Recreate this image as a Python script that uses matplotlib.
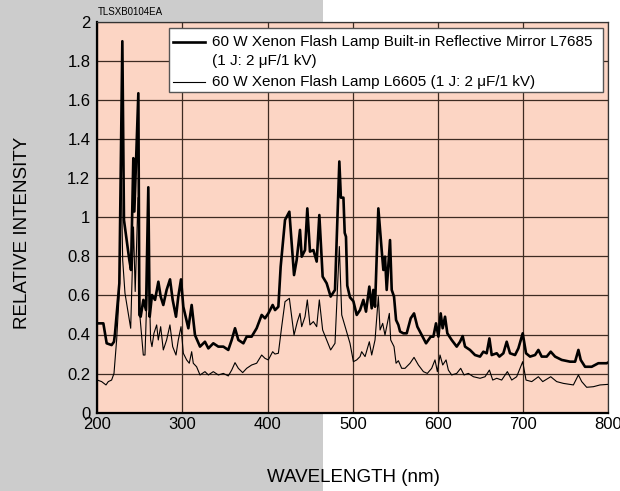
import matplotlib
matplotlib.use("Agg")
import matplotlib.pyplot as plt
from matplotlib.patches import Rectangle
from matplotlib.lines import Line2D

plt.rcParams['font.family'] = ['Liberation Sans', 'DejaVu Sans']

# L7685 (built-in reflective mirror), thick line
wl_l7685 = [200.0, 207.1, 211.0, 216.8, 219.6, 220.8, 223.5, 225.9, 229.4, 231.3,
            234.5, 237.6, 239.6, 242.3, 243.5, 248.2, 249.4, 250.9, 254.1, 257.2,
            259.9, 261.5, 264.2, 267.8, 271.7, 274.4, 277.5, 281.4, 285.4, 288.5,
            292.4, 295.1, 298.3, 301.0, 304.2, 306.9, 310.8, 314.7, 320.6, 326.4,
            330.4, 336.2, 342.1, 348.0, 353.8, 357.8, 361.7, 365.6, 371.5, 375.4,
            381.2, 387.1, 393.0, 396.9, 400.8, 405.9, 408.7, 412.6, 415.3, 420.4,
            425.5, 428.2, 431.0, 434.1, 438.0, 440.0, 443.9, 446.6, 449.7, 453.7,
            457.6, 460.7, 464.6, 469.3, 474.0, 479.1, 484.2, 486.0, 489.0, 490.5,
            492.0, 493.5, 496.7, 500.7, 504.6, 508.5, 512.4, 515.5, 519.4, 522.2,
            524.1, 526.1, 530.0, 533.9, 535.9, 537.8, 539.8, 543.7, 545.7, 548.4,
            550.8, 553.5, 555.5, 559.4, 563.3, 568.0, 571.9, 575.8, 580.9, 586.0,
            591.5, 594.6, 597.7, 600.5, 603.2, 605.5, 608.3, 611.0, 616.1, 622.0,
            625.9, 629.0, 631.8, 637.6, 643.5, 649.4, 653.3, 657.2, 660.4, 663.1,
            669.0, 672.1, 676.8, 680.7, 684.6, 690.5, 694.4, 699.5, 703.4, 708.1,
            714.0, 717.9, 721.8, 727.7, 732.4, 737.5, 745.3, 755.1, 761.0, 764.9,
            767.6, 772.7, 780.5, 788.3, 798.1, 800.0]
int_l7685 = [0.457, 0.457, 0.355, 0.346, 0.363, 0.406, 0.542, 0.662, 1.900, 0.986,
             0.883, 0.781, 0.730, 1.302, 1.029, 1.634, 0.500, 0.491, 0.577, 0.525,
             1.153, 0.491, 0.602, 0.577, 0.670, 0.594, 0.551, 0.628, 0.682, 0.577,
             0.491, 0.594, 0.682, 0.542, 0.483, 0.432, 0.551, 0.397, 0.338, 0.363,
             0.329, 0.355, 0.338, 0.338, 0.321, 0.372, 0.432, 0.372, 0.355, 0.389,
             0.389, 0.432, 0.500, 0.483, 0.508, 0.551, 0.525, 0.542, 0.747, 0.986,
             1.028, 0.866, 0.704, 0.781, 0.935, 0.798, 0.832, 1.045, 0.824, 0.832,
             0.773, 1.011, 0.696, 0.662, 0.594, 0.628, 1.285, 1.100, 1.100, 0.920,
             0.900, 0.650, 0.590, 0.570, 0.500, 0.525, 0.577, 0.517, 0.645, 0.534,
             0.628, 0.542, 1.045, 0.832, 0.730, 0.798, 0.628, 0.883, 0.628, 0.594,
             0.474, 0.449, 0.415, 0.406, 0.406, 0.483, 0.508, 0.440, 0.397, 0.355,
             0.389, 0.389, 0.457, 0.389, 0.508, 0.432, 0.491, 0.406, 0.372, 0.338,
             0.363, 0.392, 0.338, 0.321, 0.295, 0.287, 0.312, 0.304, 0.380, 0.295,
             0.304, 0.287, 0.304, 0.363, 0.304, 0.295, 0.329, 0.406, 0.304, 0.287,
             0.295, 0.321, 0.287, 0.287, 0.312, 0.287, 0.270, 0.261, 0.261, 0.321,
             0.270, 0.235, 0.235, 0.253, 0.253, 0.257]

# L6605, thin line
wl_l6605 = [200.0, 205.1, 210.2, 212.9, 216.8, 219.6, 222.7, 225.8, 227.8, 229.8,
            232.5, 236.4, 239.2, 242.5, 244.5, 247.8, 250.1, 254.0, 256.0, 259.9,
            262.6, 264.2, 266.5, 269.7, 271.6, 274.4, 277.5, 281.4, 285.3, 288.5,
            292.4, 295.1, 298.3, 301.0, 304.9, 308.0, 310.8, 312.7, 316.6, 320.6,
            326.4, 330.4, 336.2, 342.1, 348.0, 353.8, 357.8, 361.7, 365.6, 370.7,
            375.4, 381.2, 387.1, 393.0, 396.9, 400.8, 405.9, 408.6, 412.6, 416.5,
            420.4, 425.5, 428.2, 431.0, 434.9, 438.0, 440.0, 443.9, 446.6, 449.7,
            453.7, 457.6, 460.7, 464.6, 469.3, 474.0, 479.1, 484.2, 487.0, 496.7,
            500.7, 504.6, 508.5, 510.4, 514.4, 519.4, 522.2, 526.1, 530.0, 532.0,
            535.1, 537.8, 542.9, 544.5, 548.4, 550.8, 553.5, 557.4, 561.3, 567.2,
            571.9, 577.0, 582.9, 587.5, 592.6, 596.5, 599.3, 602.4, 605.6, 609.5,
            612.2, 616.1, 622.0, 626.7, 630.6, 635.7, 641.6, 649.4, 655.3, 660.4,
            664.3, 669.0, 674.8, 681.5, 686.6, 692.4, 699.5, 703.4, 710.1, 717.9,
            723.0, 732.4, 739.4, 747.2, 759.0, 764.9, 768.8, 774.6, 782.5, 790.3,
            800.0]
int_l6605 = [0.167, 0.159, 0.142, 0.159, 0.167, 0.201, 0.372, 0.611, 1.285, 0.781,
             0.611, 0.508, 0.432, 0.950, 0.620, 1.100, 0.491, 0.295, 0.295, 0.830,
             0.372, 0.338, 0.406, 0.449, 0.372, 0.440, 0.321, 0.372, 0.449, 0.338,
             0.295, 0.372, 0.440, 0.304, 0.270, 0.253, 0.312, 0.253, 0.235, 0.193,
             0.210, 0.193, 0.210, 0.193, 0.201, 0.188, 0.218, 0.256, 0.227, 0.205,
             0.227, 0.244, 0.253, 0.295, 0.278, 0.270, 0.312, 0.300, 0.304, 0.440,
             0.568, 0.585, 0.491, 0.397, 0.466, 0.508, 0.440, 0.491, 0.577, 0.449,
             0.466, 0.440, 0.577, 0.423, 0.372, 0.321, 0.355, 0.850, 0.500, 0.355,
             0.261, 0.270, 0.287, 0.312, 0.287, 0.363, 0.295, 0.372, 0.594, 0.423,
             0.457, 0.397, 0.508, 0.372, 0.338, 0.253, 0.266, 0.227, 0.227, 0.253,
             0.283, 0.244, 0.210, 0.201, 0.227, 0.270, 0.210, 0.295, 0.244, 0.270,
             0.218, 0.193, 0.201, 0.227, 0.193, 0.201, 0.184, 0.176, 0.184, 0.218,
             0.167, 0.176, 0.167, 0.210, 0.167, 0.184, 0.261, 0.167, 0.159, 0.184,
             0.159, 0.184, 0.159, 0.150, 0.142, 0.193, 0.159, 0.130, 0.133, 0.142,
             0.145]

x_ticks = [200, 300, 400, 500, 600, 700, 800]
y_ticks = [0, 0.2, 0.4, 0.6, 0.8, 1.0, 1.2, 1.4, 1.6, 1.8, 2.0]
y_ticklabels = ['0', '0.2', '0.4', '0.6', '0.8', '1', '1.2', '1.4', '1.6', '1.8', '2']
label_l7685 = ['60 W Xenon Flash Lamp Built-in Reflective Mirror L7685',
               '(1 J: 2 \u03bcF/1 kV)']
label_l6605 = '60 W Xenon Flash Lamp L6605 (1 J: 2 \u03bcF/1 kV)'

fig = plt.figure(figsize=(6.2, 4.91), dpi=100)
fig.patch.set_facecolor('white')
fig.patches.append(Rectangle((0, 0), 323 / 620, 1, transform=fig.transFigure,
                             facecolor='#cccccc', edgecolor='none', zorder=-10))

ax = fig.add_axes([97.3 / 620, 1 - 412.7 / 491, 511 / 620, 391 / 491])
ax.set_facecolor('#fcd5c4')

ax.plot(wl_l6605, int_l6605, color='black', lw=0.8, zorder=3)
ax.plot(wl_l7685, int_l7685, color='black', lw=1.9, zorder=4)

ax.set_xlim(200, 800)
ax.set_ylim(0, 2)
ax.set_xticks(x_ticks)
ax.set_yticks(y_ticks)
ax.set_yticklabels(y_ticklabels)
ax.tick_params(length=0, labelsize=12)
ax.tick_params(axis='y', pad=5)
ax.tick_params(axis='x', pad=3)
ax.grid(True, color='#3d2b22', lw=0.9)
ax.set_axisbelow(True)

for s in ['left', 'bottom']:
    ax.spines[s].set_linewidth(1.6)
    ax.spines[s].set_color('black')
for s in ['top', 'right']:
    ax.spines[s].set_linewidth(0.9)
    ax.spines[s].set_color('#333333')

ax.set_xlabel('WAVELENGTH (nm)', fontsize=13.5, va='center')
ax.set_ylabel('RELATIVE INTENSITY', fontsize=13.5)
ax.xaxis.set_label_coords(0.502, -0.167)
ax.yaxis.set_label_coords(-0.129, 0.46)

# legend box drawn by hand so the handle sits on the first line
ax.add_patch(Rectangle((0.140, 0.820), 0.850, 0.164, transform=ax.transAxes,
                       facecolor='white', edgecolor='#555555', lw=1.0, zorder=6))
ax.add_line(Line2D([0.149, 0.211], [0.949, 0.949], transform=ax.transAxes,
                   color='black', lw=1.9, zorder=7))
ax.add_line(Line2D([0.149, 0.211], [0.847, 0.847], transform=ax.transAxes,
                   color='black', lw=0.8, zorder=7))
ax.text(0.2245, 0.949, label_l7685[0], transform=ax.transAxes, fontsize=11,
        va='center', ha='left', zorder=8)
ax.text(0.2245, 0.8995, label_l7685[1], transform=ax.transAxes, fontsize=11,
        va='center', ha='left', zorder=8)
ax.text(0.2245, 0.847, label_l6605, transform=ax.transAxes, fontsize=11,
        va='center', ha='left', zorder=8)

fig.text(98 / 620, 1 - 12 / 491, 'TLSXB0104EA', fontsize=7, va='center', ha='left')

fig.savefig('out.png', dpi=100)
